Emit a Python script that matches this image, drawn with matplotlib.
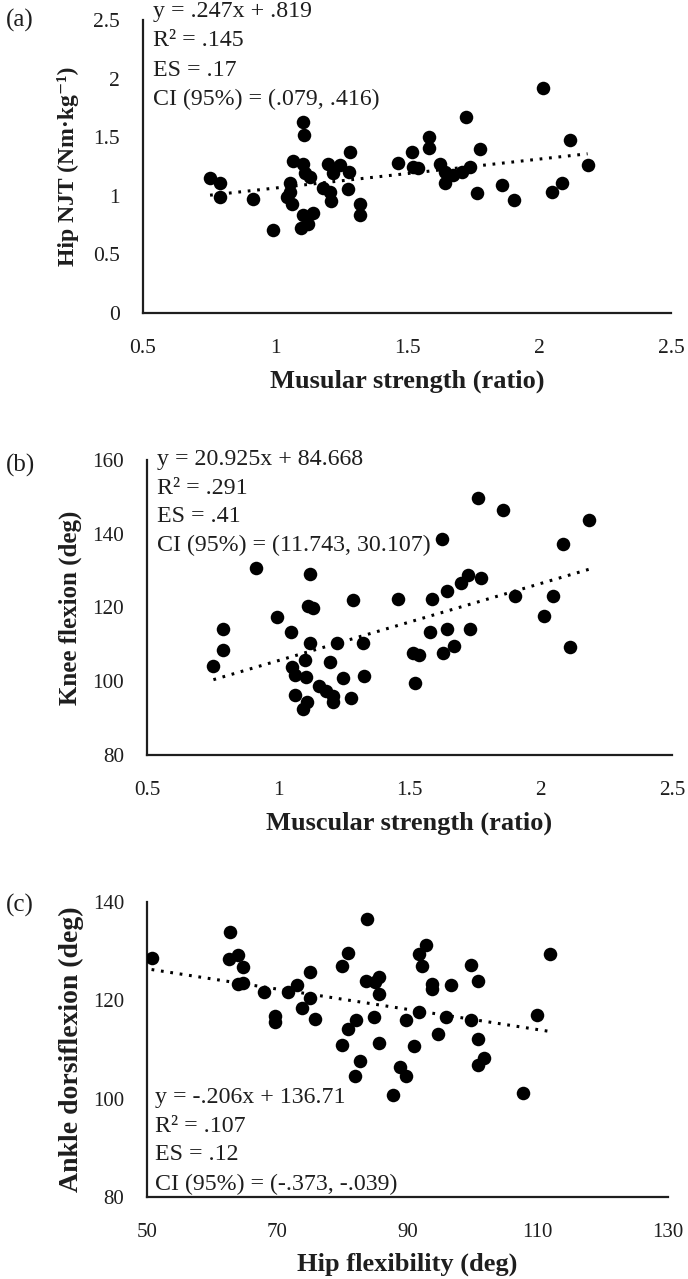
import matplotlib
matplotlib.use("Agg")
import matplotlib.pyplot as plt
import numpy as np

# ---------------- data ----------------
# Panel (a): muscular strength (ratio) vs hip NJT (Nm/kg)
a_x = [1.107, 1.110, 0.754, 0.792, 0.792, 0.915, 0.994, 1.069, 1.105, 1.114,
       1.133, 1.057, 1.057, 1.044, 1.063, 1.105, 1.145, 1.126, 1.100, 1.202,
       1.246, 1.284, 1.221, 1.281, 1.183, 1.208, 1.211, 1.278, 1.322, 1.322,
       1.467, 1.518, 1.524, 1.543, 1.583, 1.583, 1.625, 1.644, 1.644, 1.675,
       1.707, 1.739, 1.722, 1.777, 1.766, 1.861, 1.906, 2.016, 2.048, 2.086,
       2.117, 2.184]
a_y = [1.632, 1.519, 1.149, 1.107, 0.987, 0.970, 0.708, 1.300, 1.271, 1.192,
       1.163, 1.112, 1.035, 0.987, 0.930, 0.836, 0.851, 0.759, 0.722, 1.271,
       1.263, 1.376, 1.192, 1.206, 1.064, 1.035, 0.958, 1.055, 0.930, 0.836,
       1.283, 1.371, 1.248, 1.235, 1.499, 1.405, 1.271, 1.206, 1.107, 1.177,
       1.206, 1.248, 1.675, 1.397, 1.021, 1.092, 0.964, 1.922, 1.035, 1.112,
       1.476, 1.263]
a_fit = (0.247, 0.819)
a_text = ["y = .247x + .819", "R\u00b2 = .145", "ES = .17", "CI (95%) = (.079, .416)"]

# Panel (b): muscular strength (ratio) vs knee flexion (deg)
b_x = [0.915, 1.121, 0.791, 0.791, 0.753, 0.994, 1.049, 1.114, 1.131, 1.284,
       1.121, 1.223, 1.322, 1.102, 1.197, 1.051, 1.064, 1.105, 1.155, 1.182,
       1.210, 1.207, 1.248, 1.327, 1.276, 1.064, 1.108, 1.095, 1.457, 1.515,
       1.521, 1.537, 1.585, 1.578, 1.625, 1.642, 1.642, 1.626, 1.669, 1.695,
       1.724, 1.772, 1.730, 1.762, 1.857, 1.902, 2.014, 2.048, 2.083, 2.111,
       2.185]
b_y = [130.8, 129.0, 114.3, 108.6, 104.1, 117.5, 113.4, 120.5, 119.9, 122.0,
       110.3, 110.3, 110.3, 105.7, 105.3, 103.9, 101.7, 101.2, 98.8, 97.4,
       96.1, 94.4, 100.8, 101.4, 95.4, 96.3, 94.4, 92.6, 122.3, 107.7,
       99.4, 107.2, 122.2, 113.4, 138.7, 124.5, 114.1, 107.7, 109.6, 126.7,
       128.8, 128.0, 114.1, 149.6, 146.4, 123.2, 117.8, 123.2, 137.2, 109.2,
       143.7]
b_fit = (20.925, 84.668)
b_text = ["y = 20.925x + 84.668", "R\u00b2 = .291", "ES = .41", "CI (95%) = (11.743, 30.107)"]

# Panel (c): hip flexibility (deg) vs ankle dorsiflexion (deg)
c_x = [50.7, 62.7, 62.6, 64.0, 64.8, 63.9, 64.8, 67.9, 69.7, 69.7,
       71.7, 73.0, 75.0, 75.0, 73.8, 75.8, 79.9, 80.8, 83.8, 83.7,
       85.7, 85.0, 85.7, 84.8, 82.1, 80.8, 79.9, 85.7, 82.7, 82.0,
       87.8, 88.9, 89.8, 89.8, 91.0, 91.7, 91.7, 92.2, 92.9, 93.8,
       93.8, 96.7, 99.8, 100.8, 95.9, 99.8, 94.7, 100.8, 101.8, 100.8,
       109.9, 111.9, 107.8]
c_y = [128.7, 133.8, 128.5, 129.2, 126.8, 123.3, 123.6, 121.6, 116.8, 115.6,
       121.7, 123.1, 125.8, 120.5, 118.5, 116.2, 127.0, 129.7, 136.5, 124.0,
       124.7, 123.8, 121.3, 116.6, 116.0, 114.1, 111.0, 111.4, 107.7, 104.6,
       100.7, 106.4, 104.6, 116.0, 110.8, 117.7, 129.5, 127.0, 131.2, 123.4,
       122.4, 123.2, 127.2, 124.0, 116.6, 116.0, 113.1, 112.1, 108.2, 106.8,
       117.0, 129.4, 101.1]
c_fit = (-0.206, 136.71)
c_text = ["y = -.206x + 136.71", "R\u00b2 = .107", "ES = .12", "CI (95%) = (-.373, -.039)"]

a_xticks = [0.5, 1, 1.5, 2, 2.5]
a_xticklabels = ["0.5", "1", "1.5", "2", "2.5"]
a_yticks = [0, 0.5, 1, 1.5, 2, 2.5]
a_yticklabels = ["0", "0.5", "1", "1.5", "2", "2.5"]
b_yticks = [80, 100, 120, 140, 160]
c_xticks = [50, 70, 90, 110, 130]
c_yticks = [80, 100, 120, 140]

# ---------------- figure ----------------
W, H = 688, 1279
SERIF = ["Liberation Serif", "DejaVu Serif"]
plt.rcParams["font.family"] = SERIF
fig = plt.figure(figsize=(W / 100, H / 100), dpi=100)
INK = "#1e1e1e"


def rect(l, r, t, b):
    return [l / W, 1 - b / H, (r - l) / W, (b - t) / H]


def fx(px):
    return px / W


def fy(py):
    return 1 - py / H


TXT_FS = 17.2
XLAB_FS = 19


def panel(pos, x, y, fit, xlim, ylim, xticks, xtl, yticks, ytl, tick_fs):
    ax = fig.add_axes(rect(*pos))
    ax.scatter(x, y, s=95, color="black", zorder=3, linewidths=0)
    xs = np.array([min(x), max(x)])
    ax.plot(xs, fit[0] * xs + fit[1], color="black", lw=2.2,
            linestyle=(0, (0.9, 2.2)), zorder=2)
    ax.set_xlim(*xlim)
    ax.set_ylim(*ylim)
    ax.set_xticks(xticks)
    ax.set_xticklabels(xtl)
    ax.set_yticks(yticks)
    ax.set_yticklabels(ytl)
    for s in ["top", "right"]:
        ax.spines[s].set_visible(False)
    for s in ["left", "bottom"]:
        ax.spines[s].set_linewidth(1.6)
        ax.spines[s].set_color(INK)
    ax.tick_params(length=0, labelsize=tick_fs, colors=INK)
    ax.tick_params(axis="x", pad=19)
    ax.tick_params(axis="y", pad=16.5)
    ax.patch.set_visible(False)
    return ax


ax_a = panel((143, 671, 20, 313), a_x, a_y, a_fit, (0.5, 2.5), (0, 2.5),
             a_xticks, a_xticklabels, a_yticks, a_yticklabels, 15.5)
ax_b = panel((147, 672, 460, 755), b_x, b_y, b_fit, (0.5, 2.5), (80, 160),
             a_xticks, a_xticklabels, b_yticks, [str(v) for v in b_yticks], 15.2)
ax_c = panel((147, 668, 902, 1197), c_x, c_y, c_fit, (50, 130), (80, 140),
             c_xticks, [str(v) for v in c_xticks], c_yticks,
             [str(v) for v in c_yticks], 15.0)

# annotation blocks
for lines, x0, ys in [(a_text, 153, [12, 41, 70, 99]),
                      (b_text, 157, [460, 488.5, 517, 545.5]),
                      (c_text, 155, [1097, 1126, 1155, 1184])]:
    for t, yy in zip(lines, ys):
        fig.text(fx(x0), fy(yy), t, fontsize=TXT_FS, va="center", ha="left",
                 color=INK)

# panel letters
for t, yy in [("(a)", 20), ("(b)", 465), ("(c)", 905)]:
    fig.text(fx(6), fy(yy), t, fontsize=18, va="center", ha="left", color=INK)

# axis labels
ylabels = [("Hip NJT (Nm\u00b7kg\u207b\u00b9)", (20 + 313) / 2, 17, 68),
           ("Knee flexion (deg)", (460 + 755) / 2, 18, 70),
           ("Ankle dorsiflexion (deg)", (902 + 1197) / 2, 20, 71)]
for t, yy, fs, xx in ylabels:
    fig.text(fx(xx), fy(yy), t, fontsize=fs, fontweight="bold",
             rotation=90, va="center", ha="center", color=INK)

xlabels = [("Musular strength (ratio)", 407, 381),
           ("Muscular strength (ratio)", 409, 823),
           ("Hip flexibility (deg)", 407, 1264)]
for t, xx, yy in xlabels:
    fig.text(fx(xx), fy(yy), t, fontsize=XLAB_FS, fontweight="bold",
             va="center", ha="center", color=INK)

fig.savefig("out.png", dpi=100)
